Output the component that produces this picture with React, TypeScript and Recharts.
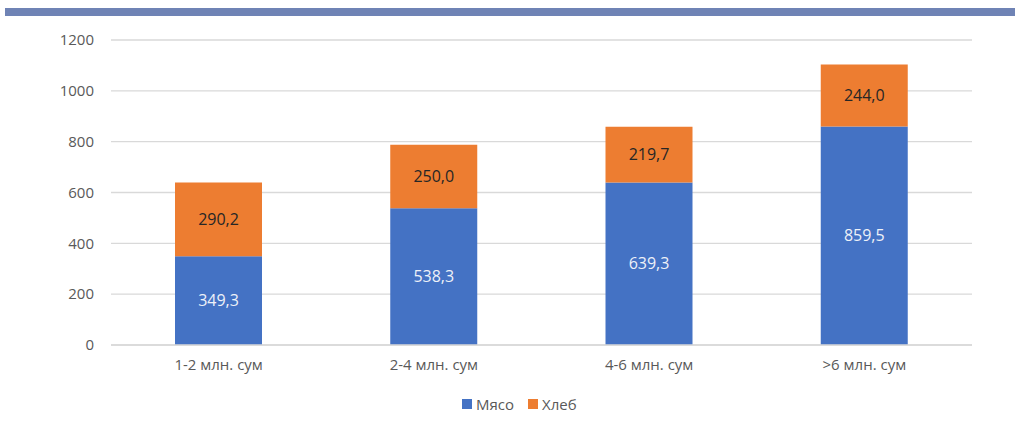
import React from "react";
import { BarChart, Bar, XAxis, YAxis, CartesianGrid, LabelList } from "recharts";

const categories = ["1-2 млн. сум", "2-4 млн. сум", "4-6 млн. сум", ">6 млн. сум"];
const meat = [349.3, 538.3, 639.3, 859.5];
const bread = [290.2, 250.0, 219.7, 244.0];
const yTicks = [0, 200, 400, 600, 800, 1000, 1200];

const data = categories.map((name, i) => ({ name, meat: meat[i], bread: bread[i] }));

const fmt = (v: any) => Number(v).toFixed(1).replace(".", ",");
const font = "'Open Sans', sans-serif";

function LegendBox() {
  return (
    <div
      style={{
        position: "absolute",
        left: 462,
        top: 394,
        display: "flex",
        alignItems: "center",
        fontFamily: font,
        fontSize: 15,
        color: "#595959",
      }}
    >
      <span style={{ width: 10, height: 10, background: "#4472c4", display: "inline-block", marginRight: 4 }} />
      <span style={{ marginRight: 14 }}>Мясо</span>
      <span style={{ width: 10, height: 10, background: "#ed7d31", display: "inline-block", marginRight: 4 }} />
      <span>Хлеб</span>
    </div>
  );
}

export default function App() {
  return (
    <div style={{ position: "absolute", left: 0, top: 0, width: 1015, height: 426, background: "#fff" }}>
      <div style={{ position: "absolute", left: 5, top: 8, width: 1010, height: 8, background: "#6f83b5" }} />
      <BarChart
        width={1015}
        height={426}
        data={data}
        barSize={87}
        margin={{ top: 40, right: 43, left: 0, bottom: 51 }}
        style={{ fontFamily: font }}
      >
        <CartesianGrid vertical={false} stroke="#d9d9d9" strokeWidth={1.3} />
        <XAxis
          dataKey="name"
          height={30}
          axisLine={{ stroke: "#d9d9d9", strokeWidth: 1.3 }}
          tickLine={false}
          tickSize={0}
          tickMargin={14}
          tick={{ fill: "#595959", fontSize: 15 }}
        />
        <YAxis
          width={111}
          domain={[0, 1200]}
          ticks={yTicks}
          axisLine={false}
          tickLine={false}
          tickSize={0}
          tickMargin={17}
          tick={{ fill: "#595959", fontSize: 15 }}
        />
        <Bar dataKey="meat" stackId="a" fill="#4472c4" isAnimationActive={false}>
          <LabelList dataKey="meat" position="center" formatter={fmt} fill="#eef1f8" fontSize={16} />
        </Bar>
        <Bar dataKey="bread" stackId="a" fill="#ed7d31" isAnimationActive={false}>
          <LabelList dataKey="bread" position="center" formatter={fmt} fill="#262626" fontSize={16} />
        </Bar>
      </BarChart>
      <LegendBox />
    </div>
  );
}
